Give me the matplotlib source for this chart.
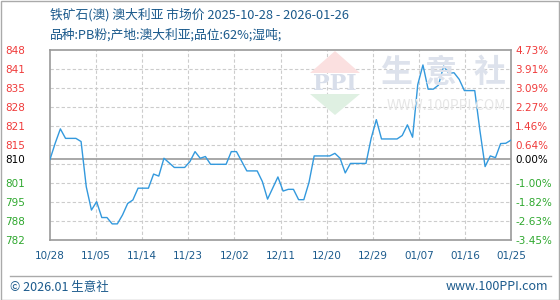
import matplotlib
matplotlib.use("Agg")
import matplotlib.pyplot as plt
from matplotlib.patches import Polygon, Rectangle
from matplotlib.lines import Line2D

plt.rcParams['font.family'] = ['Noto Sans CJK SC', 'DejaVu Sans']

# ---- data (day offset from 2025-10-28, price) ----
days = [0, 1, 2, 3, 5, 6, 7, 8, 9, 10, 11, 12, 13, 14, 15, 16, 17, 19, 20, 21,
        22, 23, 24, 26, 27, 28, 29, 30, 31, 34, 35, 36, 38, 40, 41, 42, 44, 45,
        46, 47, 48, 49, 50, 51, 54, 55, 56, 57, 58, 61, 62, 63, 64, 67, 68, 69,
        70, 71, 72, 73, 74, 75, 76, 77, 78, 79, 80, 82, 83, 84, 85, 86, 87, 88, 89]
prices = [810.0, 815.6, 820.6, 817.3, 817.3, 816.2, 800.5, 792.4, 795.3, 789.8,
          789.8, 787.6, 787.6, 790.7, 794.7, 795.9, 800.0, 800.0, 804.9, 804.2,
          810.4, 808.8, 807.2, 807.2, 809.2, 812.7, 810.4, 811.0, 808.3, 808.3,
          812.7, 812.7, 806.0, 806.0, 802.3, 796.2, 803.9, 799.0, 799.6, 799.6,
          796.0, 796.0, 802.0, 811.2, 811.2, 812.1, 810.4, 805.3, 808.6, 808.6,
          817.3, 823.8, 817.1, 817.1, 818.3, 822.0, 817.7, 836.0, 842.8, 834.4,
          834.4, 835.8, 842.4, 839.9, 840.1, 837.8, 833.9, 833.9, 820.0, 807.5,
          811.2, 810.6, 815.5, 815.6, 816.7]

base_price = 810
y_min, y_max = 782, 848
ytick_vals = [848, 841.4, 834.8, 828.2, 821.6, 815, 810, 801.8, 795.2, 788.6, 782]
ytick_labels = ["848", "841", "835", "828", "821", "815", "810", "801", "795", "788", "782"]
pct_labels = ["4.73%", "3.91%", "3.09%", "2.27%", "1.46%", "0.64%", "0.00%",
              "-1.00%", "-1.82%", "-2.63%", "-3.45%"]
grid_vals = [841.4, 834.8, 828.2, 821.6, 815, 808.4, 801.8, 795.2, 788.6]
xtick_vals = [0, 8.9, 17.8, 26.7, 35.6, 44.5, 53.4, 62.3, 71.2, 80.1, 89]
xtick_labels = ["10/28", "11/05", "11/14", "11/23", "12/02", "12/11", "12/20",
                "12/29", "01/07", "01/16", "01/25"]

title1 = "铁矿石(澳) 澳大利亚 市场价 2025-10-28 - 2026-01-26"
title2 = "品种:PB粉;产地:澳大利亚;品位:62%;湿吨;"

W, H = 560, 300
fig = plt.figure(figsize=(W / 100, H / 100), dpi=100)
fig.patch.set_facecolor('white')

def fx(x):
    return x / W

def fy(y):
    return 1 - y / H

L, R, T, B = 50, 511, 50, 240
ax = fig.add_axes([fx(L), fy(B), (R - L) / W, (B - T) / H])
ax.set_facecolor('none')

red = '#f03a3a'
green = '#2fa82f'
blue_txt = '#1b5a8c'
grid_c = '#cccccc'
frame_c = '#999999'

# watermark logo
fig.patches.append(Polygon([(fx(310), fy(73)), (fx(360), fy(73)), (fx(335), fy(51))],
                           closed=True, transform=fig.transFigure, facecolor='#fbe0e0',
                           edgecolor='none', zorder=0))
fig.patches.append(Polygon([(fx(310), fy(94)), (fx(360), fy(94)), (fx(335), fy(115))],
                           closed=True, transform=fig.transFigure, facecolor='#dff0e2',
                           edgecolor='none', zorder=0))
fig.text(fx(335), fy(84), "PPI", ha='center', va='center', fontsize=16,
         color='#d8deea', family='DejaVu Serif', fontweight='bold', zorder=0)
for ch, cx in zip("生意社", [396, 441, 490]):
    fig.text(fx(cx), fy(73), ch, ha='center', va='center', fontsize=23,
             color='#dde2ec', fontweight='bold', zorder=0)
fig.text(fx(446), fy(106), "WWW.100PPI.COM", ha='center', va='center', fontsize=10,
         color='#e6e6e6', zorder=0)

# grid
for g in grid_vals:
    ax.axhline(g, color=grid_c, lw=0.8, ls=(0, (3, 2)), zorder=1)
for xv in xtick_vals[1:-1]:
    ax.axvline(xv, color=grid_c, lw=0.8, ls=(0, (3, 2)), zorder=1)
ax.axhline(base_price, color=frame_c, lw=1.2, zorder=2)

ax.plot(days, prices, color='#3399dd', lw=1.0, zorder=3)

ax.set_xlim(xtick_vals[0], xtick_vals[-1])
ax.set_ylim(y_min, y_max)

for s in ax.spines.values():
    s.set_color(frame_c)
    s.set_linewidth(1.2)

ax.set_xticks(xtick_vals)
ax.set_xticklabels(xtick_labels)
ax.tick_params(axis='x', length=0, pad=8, labelsize=7.5, labelcolor=blue_txt)

ax.set_yticks(ytick_vals)
ax.set_yticklabels(ytick_labels)
ax.tick_params(axis='y', length=0, pad=32.5, labelsize=7.5)
for lab, v in zip(ax.get_yticklabels(), ytick_vals):
    lab.set_horizontalalignment('left')
    lab.set_family('DejaVu Sans')
    lab.set_color(red if v > base_price else ('black' if v == base_price else green))
for lab in ax.get_xticklabels():
    lab.set_family('DejaVu Sans')

ax2 = ax.twinx()
ax2.set_ylim(y_min, y_max)
ax2.set_yticks(ytick_vals)
ax2.set_yticklabels(pct_labels)
ax2.tick_params(axis='y', length=0, pad=3, labelsize=7.5)
for lab, v in zip(ax2.get_yticklabels(), ytick_vals):
    lab.set_family('DejaVu Sans')
    lab.set_color(red if v > base_price else ('black' if v == base_price else green))
for s in ax2.spines.values():
    s.set_visible(False)

# titles
fig.text(fx(50), fy(15), title1, ha='left', va='center', fontsize=9.2, color=blue_txt)
fig.text(fx(50), fy(35), title2, ha='left', va='center', fontsize=9.2, color=blue_txt)

# footer
fig.lines.append(Line2D([fx(10), fx(551)], [fy(276), fy(276)], transform=fig.transFigure,
                        color='#aaaaaa', lw=1))
fig.text(fx(10), fy(287), "© 2026.01 生意社", ha='left', va='center', fontsize=9,
         color=blue_txt)
fig.text(fx(548), fy(287), "www.100PPI.com", ha='right', va='center', fontsize=9,
         color=blue_txt)

# outer border
fig.patches.append(Rectangle((0.5 / W, 0.5 / H), (W - 1.5) / W, (H - 1.5) / H,
                             transform=fig.transFigure, fill=False,
                             edgecolor='#aaaaaa', lw=1))

fig.savefig("out.png", dpi=100)
